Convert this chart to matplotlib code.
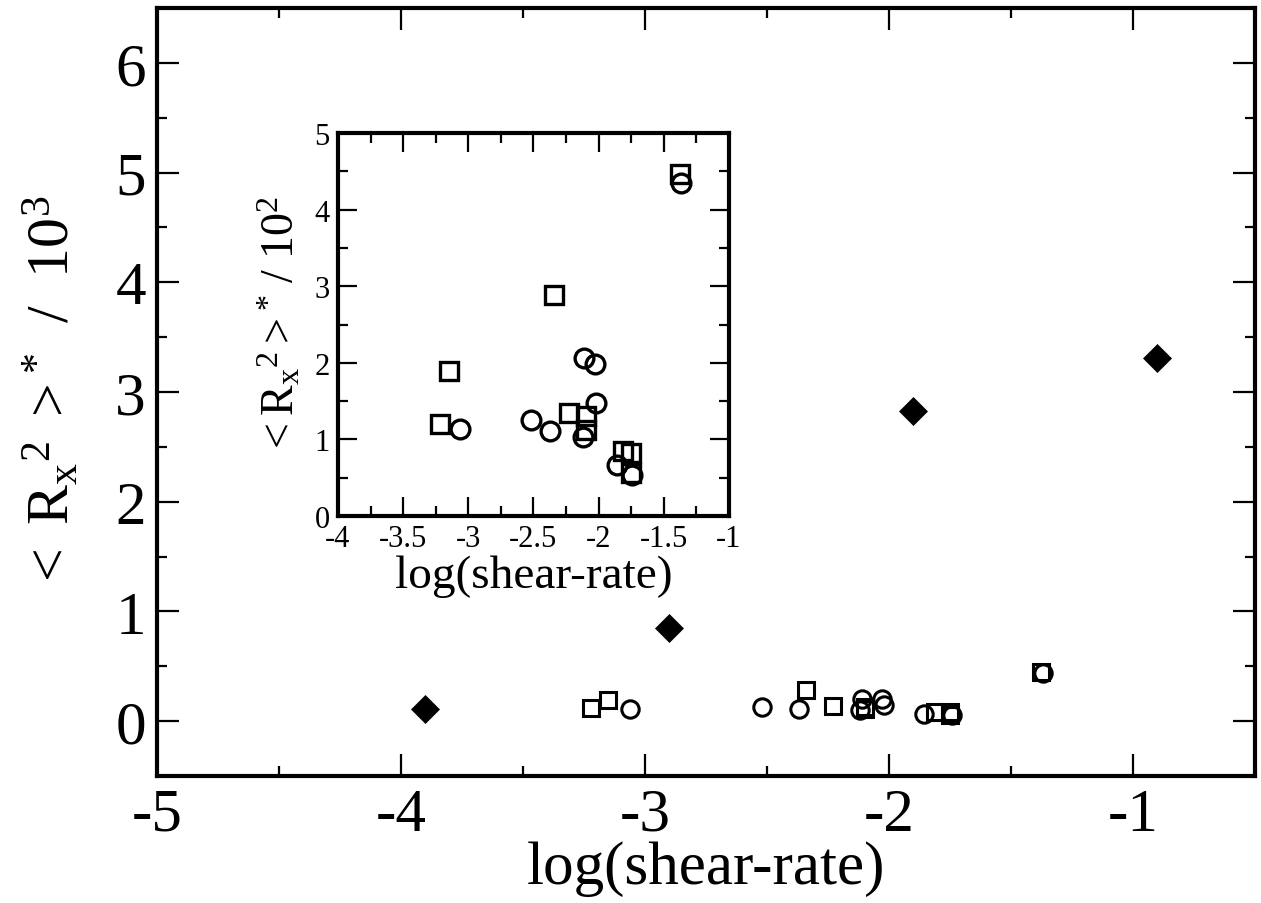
import matplotlib
matplotlib.use("Agg")
import matplotlib.pyplot as plt
import numpy as np
from matplotlib.ticker import MultipleLocator, FormatStrFormatter

plt.rcParams['font.family'] = ['Liberation Serif', 'DejaVu Serif']
plt.rcParams['mathtext.fontset'] = 'custom'
plt.rcParams['mathtext.rm'] = 'Liberation Serif'
plt.rcParams['mathtext.it'] = 'Liberation Serif:italic'
plt.rcParams['mathtext.default'] = 'regular'
plt.rcParams['axes.unicode_minus'] = False

# Data (y in units of 10^2, as in the inset)
sq_x = [-3.22, -3.15, -2.34, -2.23, -2.10, -2.10, -1.81, -1.75, -1.75, -1.375]
sq_y = [1.20, 1.89, 2.88, 1.34, 1.31, 1.12, 0.85, 0.83, 0.56, 4.46]
ci_x = [-3.06, -2.52, -2.37, -2.11, -2.03, -2.02, -2.12, -1.855, -1.74, -1.37]
ci_y = [1.135, 1.25, 1.105, 2.06, 1.98, 1.48, 1.03, 0.67, 0.535, 4.35]
# filled diamonds (main panel only, units of 10^3)
di_x = [-3.90, -2.90, -1.90, -0.90]
di_y = [0.11, 0.85, 2.83, 3.31]

to_main = 0.1  # 10^2 -> 10^3 units

fig = plt.figure(figsize=(12.61, 9.04), dpi=100)
ax = fig.add_axes([0.1245, 0.1405, 0.8707, 0.8496])

ax.plot(sq_x, np.array(sq_y) * to_main, ls='none', marker='s', ms=11,
        mfc='none', mec='black', mew=2.2)
ax.plot(ci_x, np.array(ci_y) * to_main, ls='none', marker='o', ms=12.5,
        mfc='none', mec='black', mew=2.2)
ax.plot(di_x, di_y, ls='none', marker='D', ms=14.5, mfc='black', mec='black', mew=0.5)

ax.set_xlim(-5, -0.5)
ax.set_ylim(-0.5, 6.5)
ax.xaxis.set_major_locator(MultipleLocator(1))
ax.xaxis.set_minor_locator(MultipleLocator(0.5))
ax.yaxis.set_major_locator(MultipleLocator(1))
ax.yaxis.set_minor_locator(MultipleLocator(0.5))
ax.tick_params(which='both', direction='in', top=True, right=True, width=1.6)
ax.tick_params(which='major', length=16, labelsize=44, pad=8)
ax.tick_params(which='minor', length=7.5)
for s in ax.spines.values():
    s.set_linewidth(3)
ax.set_xlabel('log(shear-rate)', fontsize=44, labelpad=-2)
ax.set_ylabel(r'$<\ R_{x}{}^{2}\ >^{*}\ \ /\ \ 10^{3}$', fontsize=43, labelpad=24)

# inset
ins = fig.add_axes([0.268, 0.428, 0.310, 0.4237])
ins.plot(sq_x, sq_y, ls='none', marker='s', ms=13, mfc='none', mec='black', mew=2.4)
ins.plot(ci_x, ci_y, ls='none', marker='o', ms=13.5, mfc='none', mec='black', mew=2.4)
ins.set_xlim(-4, -1)
ins.set_ylim(0, 5)
ins.xaxis.set_major_locator(MultipleLocator(0.5))
ins.xaxis.set_minor_locator(MultipleLocator(0.25))
ins.yaxis.set_major_locator(MultipleLocator(1))
ins.yaxis.set_minor_locator(MultipleLocator(0.5))
ins.xaxis.set_major_formatter(FormatStrFormatter('%g'))
ins.yaxis.set_major_formatter(FormatStrFormatter('%g'))
ins.tick_params(which='both', direction='in', top=True, right=True, width=1.6)
ins.tick_params(which='major', length=14, labelsize=22, pad=6)
ins.tick_params(which='minor', length=7.5)
for s in ins.spines.values():
    s.set_linewidth(3)
ins.set_xlabel('log(shear-rate)', fontsize=34, labelpad=1)
ins.set_ylabel(r'$<R_{x}{}^{2}>^{*}\ /\ 10^{2}$', fontsize=33, labelpad=8)

fig.savefig('out.png', dpi=100)
